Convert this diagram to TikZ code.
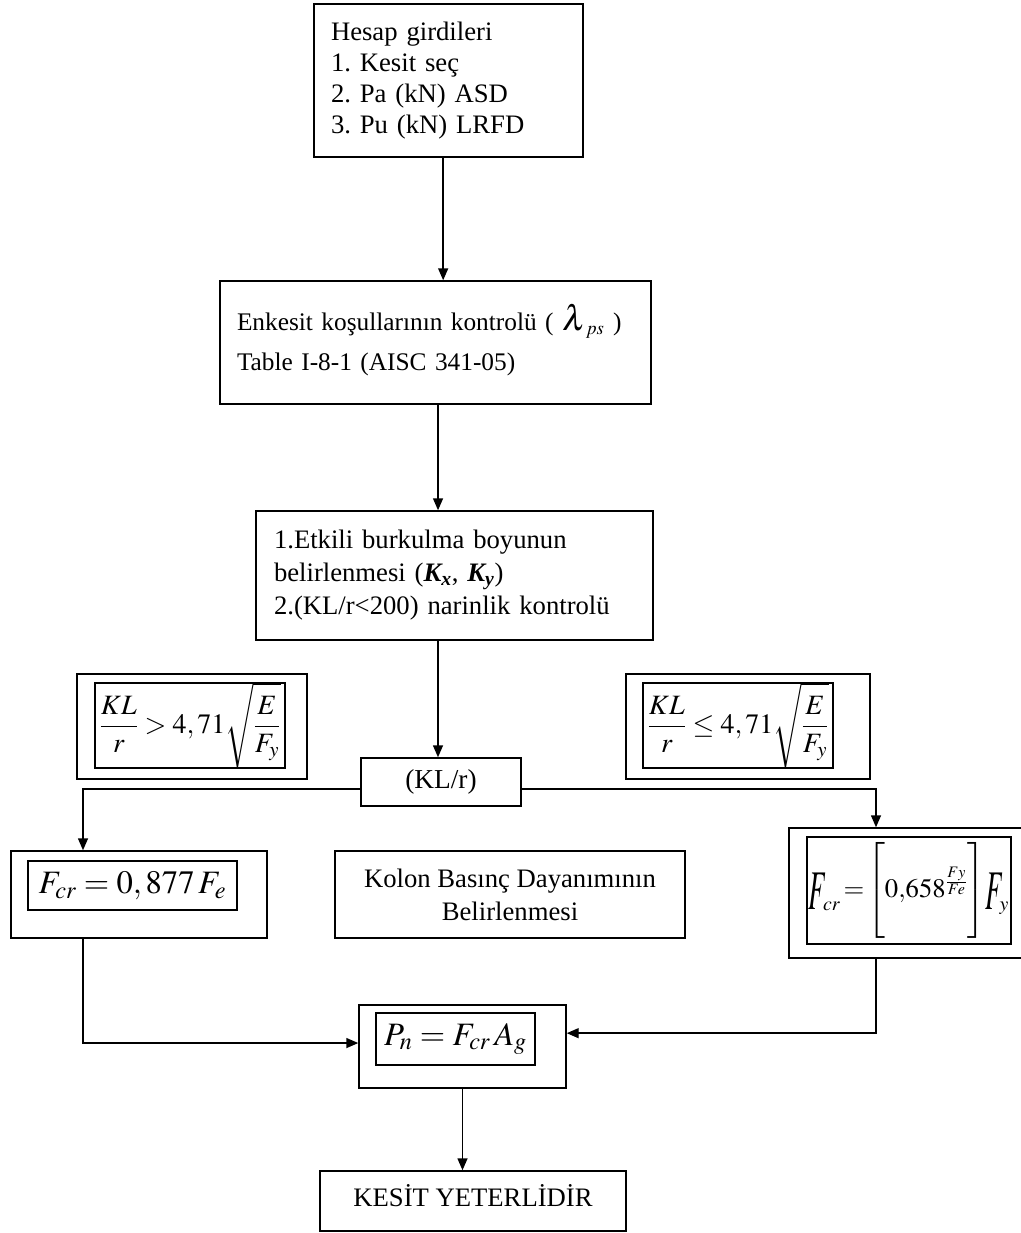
\documentclass[tikz,border=0pt]{standalone}
\usepackage[no-math]{fontspec}
\usepackage{mathptmx}
\setmainfont{Liberation Serif}
\usepackage{graphicx}
\usetikzlibrary{arrows.meta}
\frenchspacing

\tikzset{
  box/.style={draw, rectangle, inner sep=0pt, line width=1.1pt},
  sz/.style 2 args={minimum width=#1*0.75pt, minimum height=#2*0.75pt},
  txt/.style={font=\fontsize{20}{23.25}\selectfont},
  arr/.style={line width=1.1pt, -{Triangle[length=9pt,width=7.5pt]}}
}
\newcommand{\tallF}{\raisebox{-9pt}{\scalebox{1.0}[2.1]{$F$}}}

\begin{document}
\begin{tikzpicture}[x=0.75pt, y=-0.75pt]
  \useasboundingbox (0,0) rectangle (1021,1233);
  \clip (0,0) rectangle (1021,1233);

  % Main flow boxes (text)
  \node (hesap) at (448.5,80.5) [box, txt, align=left, text width=176.25pt, inner xsep=12.75pt, minimum height=114.75pt]
    {Hesap girdileri\\1. Kesit seç\\2. Pa (kN) ASD\\3. Pu (kN) LRFD};
  \node (enkesit) at (435.5,342.5) [box, font=\fontsize{19}{30}\selectfont, align=left, text width=297.75pt, inner xsep=12.75pt, minimum height=92.25pt]
    {Enkesit koşullarının kontrolü ( $\scalebox{1.4}{$\lambda$}_{ps}$ )\\Table I-8-1 (AISC 341-05)\\[-22.5pt]\mbox{}};
  \node (etkili) at (454.5,575.5) [box, font=\fontsize{20}{24.75}\selectfont, align=left, text width=270.75pt, inner xsep=13.5pt, minimum height=96.75pt]
    {1.Etkili burkulma boyunun\\belirlenmesi (\textbf{\textit{K\textsubscript{x}}}, \textbf{\textit{K\textsubscript{y}}})\\2.(KL/r<200) narinlik kontrolü};
  \node (klr) at (441,782) [box, font=\fontsize{20.5}{24}\selectfont, sz={160}{48}] {(KL/r)};
  \node (kolon) at (510,894.5) [box, align=center, sz={350}{87}, font=\fontsize{20}{24.75}\selectfont]
    {Kolon Basınç Dayanımının\\Belirlenmesi};
  \node (kesit) at (473,1201) [box, txt, sz={306}{60}] {\raisebox{9pt}{KESİT YETERLİDİR}};

  % Condition boxes (double frame)
  \node (condl) at (192,726.5) [box, sz={230}{105}] {};
  \node (condli) at (190,725.5) [box, sz={190}{85}, font=\fontsize{21}{24}\selectfont]
    {$\displaystyle\frac{KL}{r} > 4,71\sqrt{\frac{E}{F_y}}$};
  \node (condr) at (748,726.5) [box, sz={244}{105}] {};
  \node (condri) at (738,725.5) [box, sz={190}{85}, font=\fontsize{21}{24}\selectfont]
    {$\displaystyle\frac{KL}{r} \leq 4,71\sqrt{\frac{E}{F_y}}$};

  % Critical stress boxes
  \node (fcrl) at (139,894.5) [box, sz={256}{87}] {};
  \node (fcrli) at (132.5,885.5) [box, sz={209}{49}, font=\fontsize{24.5}{28}\selectfont]
    {$F_{cr} = 0,877\,F_e$};
  \node (fcrr) at (912,893) [box, sz={246}{130}] {};
  \node (fcrri) at (909,890.5) [box, sz={204}{107}, font=\fontsize{20}{24}\selectfont]
    {$\tallF_{\!\!cr}\!=\!\left[\vrule height 32pt depth 31pt width 0pt 0{,}658^{\frac{Fy}{Fe}}\right]\!\tallF_{\!\!y}$};

  % Nominal strength box
  \node (pn) at (462.5,1046.5) [box, sz={207}{83}] {};
  \node (pni) at (455.5,1039) [box, sz={159}{52}, font=\fontsize{24.5}{28}\selectfont]
    {$P_n = F_{cr}\,A_g$};

  % Connectors
  \draw[arr] ([xshift=-4pt]hesap.south) -- ([xshift=-4pt]hesap.south |- enkesit.north);
  \draw[arr] ([xshift=1.9pt]enkesit.south) -- ([xshift=1.9pt]enkesit.south |- etkili.north);
  \draw[arr] ([xshift=-2.25pt]klr.north |- etkili.south) -- ([xshift=-2.25pt]klr.north);
  \draw[arr] ([yshift=-5.25pt]klr.west) -| ([xshift=-42pt]fcrl.north);
  \draw[arr] ([yshift=-5.25pt]klr.east) -| ([xshift=-27pt]fcrr.north);
  \draw[arr] ([xshift=-42pt]fcrl.south) |- ([yshift=2.6pt]pn.west);
  \draw[arr] ([xshift=-27pt]fcrr.south) |- ([yshift=10pt]pn.east);
  \draw[arr] (pn.south) -- (pn.south |- kesit.north);
\end{tikzpicture}
\end{document}
